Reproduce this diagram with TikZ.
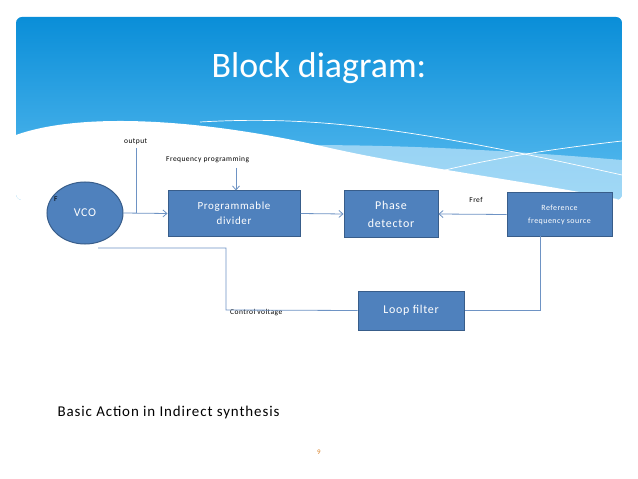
\documentclass[tikz,border=0pt]{standalone}
\usepackage{fontspec}
\setmainfont{Carlito}[LetterSpace=6]
\usetikzlibrary{shapes.geometric,arrows.meta}
\definecolor{boxb}{HTML}{4F81BD}
\definecolor{boxe}{HTML}{385D8A}
\definecolor{lineb}{HTML}{6E93C4}
\definecolor{hdtop}{HTML}{0A8ED8}
\definecolor{hdbot}{HTML}{5CBDF0}
\begin{document}
\begin{tikzpicture}[x=1bp,y=-1bp,
  blk/.style={draw=boxe,fill=boxb,line width=1bp,text=white,align=center,font=\fontsize{11}{15}\selectfont,inner sep=0pt},
  con/.style={draw=lineb,line width=0.8bp},
  arr/.style={con,-{Straight Barb[length=4bp,width=7bp]}},
  lbl/.style={font=\fontsize{7.5}{8}\selectfont,inner sep=0pt}]
\useasboundingbox (0,0) rectangle (638,479);
\fill[white] (0,0) rectangle (638,479);
% header
\begin{scope}
\clip[rounded corners=6bp] (16,17) rectangle (622,200);
\shade[top color=hdtop,bottom color=hdbot] (16,17) rectangle (622,200);
\fill[white!60!hdbot,opacity=0.7] (200,148) .. controls (350,140) and (500,150) .. (622,160) -- (622,200) -- (200,200) -- cycle;
\fill[white] (16,135) .. controls (80,112) and (200,118) .. (330,148) .. controls (420,168) and (520,180) .. (622,200) -- (16,200) -- cycle;
\draw[white,line width=0.7bp] (200,122) .. controls (320,115) and (420,130) .. (622,175);
\draw[white,line width=0.7bp] (390,185) .. controls (470,160) and (560,148) .. (622,141);
\end{scope}
\node[text=white,font=\fontsize{36}{40}\selectfont\addfontfeature{LetterSpace=0}] (title) at (319,68) {Block diagram:};
% blocks
\node[blk,ellipse,minimum width=76bp,minimum height=62bp,font=\fontsize{12}{14}\selectfont] (vco) at (85,213) {VCO};
\node[blk,minimum width=132bp,minimum height=45bp] (div) at (234,213.5) {Programmable\\divider};
\node[blk,minimum width=94bp,minimum height=46bp,font=\fontsize{12}{18}\selectfont] (pd) at (391,214) {Phase\\detector};
\node[blk,minimum width=105bp,minimum height=43bp,font=\fontsize{8}{13}\selectfont] (ref) at (559.5,214.5) {Reference\\frequency source};
\node[blk,minimum width=106bp,minimum height=39bp,font=\fontsize{12}{14}\selectfont] (lf) at (411,310.5) {Loop filter};
% labels
\node[lbl,anchor=west] (out) at (124,142) {output};
\node[lbl,anchor=west] (fp) at (166,160) {Frequency programming};
\node[lbl] (fref) at (476,200) {Fref};
\node[lbl,anchor=west] (cv) at (230,313) {Control voltage};
\node[lbl,anchor=west] (f) at (54,199) {F};
% connectors
\coordinate (o1) at (136,148);
\coordinate (o2) at (136,213);
\draw[con] (o1) -- (o2);
\draw[arr] (vco.east) -- (div.west);
\draw[arr] (236,168) -- (div.north -| 236,0);
\draw[arr] (div.east) -- (pd.west);
\draw[arr] (ref.west) -- (pd.east);
\coordinate (r1) at (540,236);
\draw[con] (r1) |- (lf.east);
\coordinate (c1) at (226,310);
\coordinate (c2) at (226,248);
\coordinate (c3) at (98,248);
\draw[con] (lf.west) -- (c1) -- (c2) -- (c3);
% footer
\node[font=\fontsize{15}{16}\selectfont,anchor=west] (cap) at (54,413) {Basic Action in Indirect synthesis};
\node[font=\fontsize{7}{8}\selectfont,text=orange!70!gray] (pg) at (319,452) {9};
\end{tikzpicture}
\end{document}
